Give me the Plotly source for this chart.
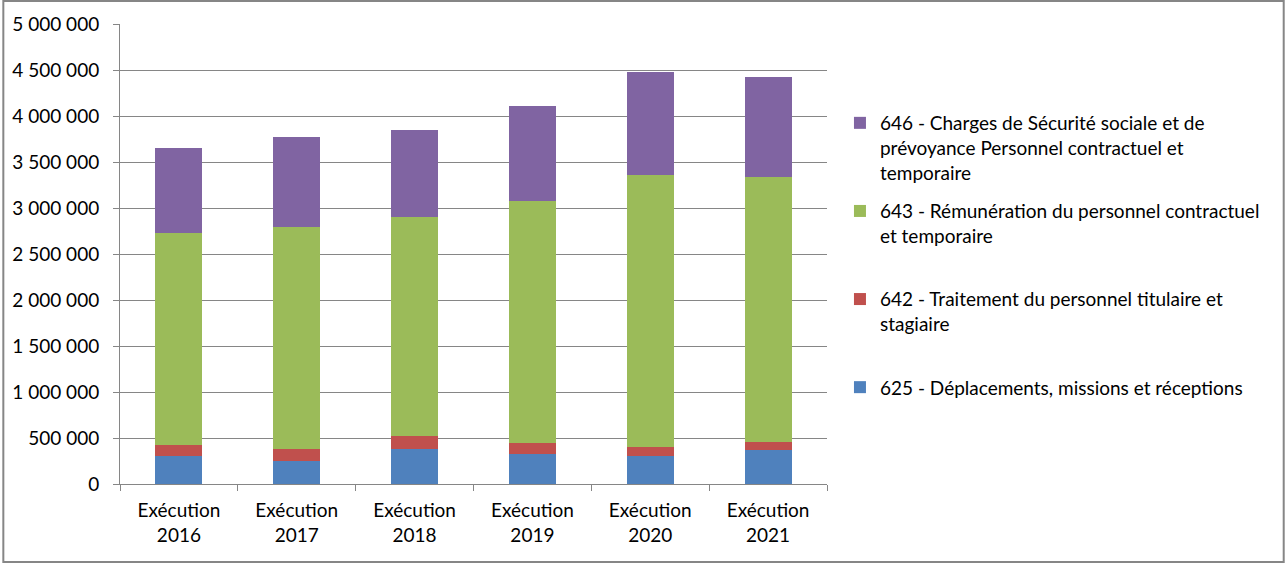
import plotly.graph_objects as go

categories = ["Exécution<br>2016", "Exécution<br>2017", "Exécution<br>2018",
              "Exécution<br>2019", "Exécution<br>2020", "Exécution<br>2021"]
s625 = [305000, 247000, 378000, 326000, 305000, 370000]
s642 = [116000, 131000, 144000, 117000, 94000, 84000]
s643 = [2307000, 2415000, 2380000, 2633000, 2960000, 2883000]
s646 = [925000, 980000, 947000, 1034000, 1121000, 1088000]

names = {
    "625": "625 - Déplacements, missions et réceptions",
    "642": "642 - Traitement du personnel titulaire et<br>stagiaire<br>\u00a0",
    "643": "643 - Rémunération du personnel contractuel<br>et temporaire<br>\u00a0",
    "646": "646 - Charges de Sécurité sociale et de<br>prévoyance Personnel contractuel et<br>temporaire",
}
colors = {"625": "#4F81BD", "642": "#C0504D", "643": "#9BBB59", "646": "#8064A2"}
ranks = {"646": 1, "643": 2, "642": 3, "625": 4}

W, H = 1286, 563
L, R, T, B = 118, 459, 24, 79
pw = W - L - R
ph = H - T - B

fig = go.Figure()
for key, vals in [("625", s625), ("642", s642), ("643", s643), ("646", s646)]:
    fig.add_trace(go.Bar(x=categories, y=vals, name=names[key], marker_color=colors[key],
                         marker_line_width=0, legendgroup=key, legendrank=ranks[key]))

font = "Lato, 'Open Sans', sans-serif"
fig.update_layout(
    width=W, height=H,
    barmode="stack", bargap=0.6,
    separators=", ",
    plot_bgcolor="white", paper_bgcolor="white",
    margin=dict(l=L, r=R, t=T, b=B),
    font=dict(family=font, size=19, color="#000000"),
    legend=dict(traceorder="grouped", x=(840 - L) / pw, xanchor="left",
                y=(H - B - 104) / ph, yanchor="top", valign="top",
                font=dict(size=19), tracegroupgap=11, itemwidth=30),
    showlegend=True,
)
fig.update_xaxes(showline=True, linecolor="#868686", linewidth=1,
                 ticks="outside", tickson="boundaries", ticklen=6, tickcolor="#868686",
                 ticklabelstandoff=9, tickfont=dict(size=19))
fig.update_yaxes(range=[0, 5000000], dtick=500000, tickformat=",d",
                 showgrid=True, gridcolor="#868686", gridwidth=1,
                 showline=True, linecolor="#868686", linewidth=1,
                 ticks="outside", ticklen=6, tickcolor="#868686",
                 ticklabelstandoff=10, zeroline=False, tickfont=dict(size=19))
fig.add_shape(type="rect", xref="paper", yref="paper",
              x0=-(L - 1) / pw, x1=(W - L - 1) / pw,
              y0=-(B - 1) / ph, y1=(H - B - 1) / ph,
              line=dict(color="#868686", width=2), layer="below")
fig.write_html("out.html", config={"displayModeBar": False},
               post_script="document.body.style.margin='0px';")
